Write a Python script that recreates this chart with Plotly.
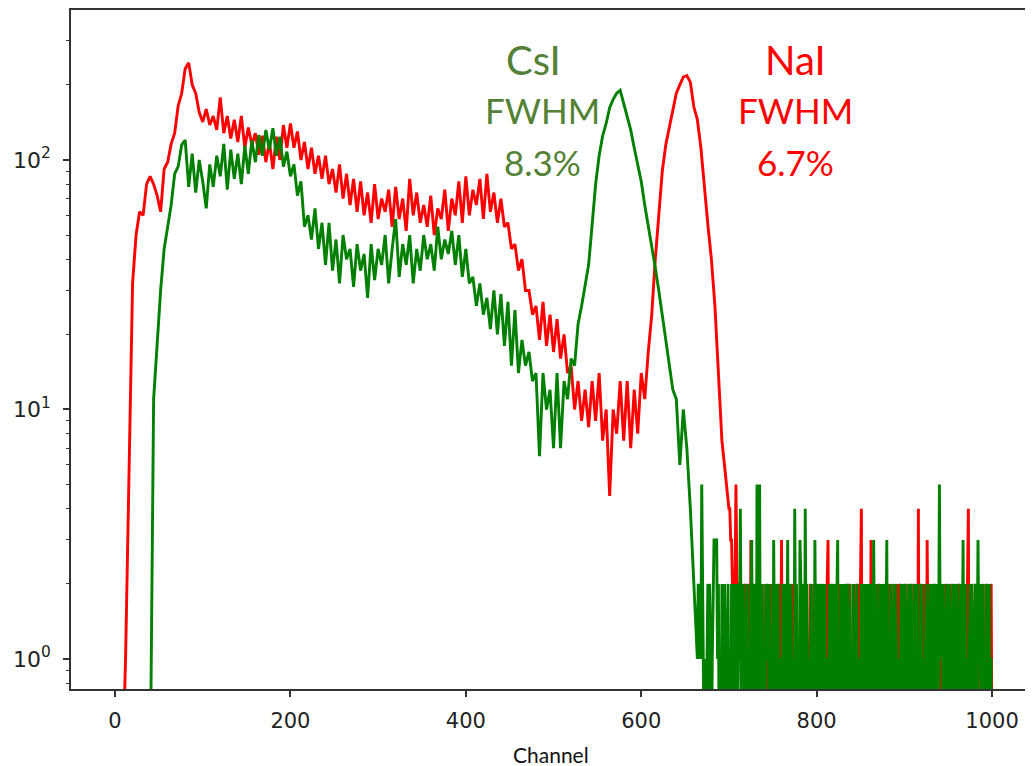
import numpy as np
import plotly.graph_objects as go

# ---------------- data (counts per channel) ----------------
STEP = 4  # main part sampled every 4 channels, starting at channel 0

# NaI spectrum, channels 0, 4, ..., 696
nai_main = [
    0, 0, 0, 1, 6, 32, 50, 62, 60, 80,
    86, 80, 72, 62, 92, 98, 116, 128, 165, 185,
    232, 245, 200, 185, 155, 142, 160, 138, 150, 132,
    178, 128, 150, 122, 145, 118, 150, 112, 135, 115,
    128, 105, 125, 98, 118, 92, 124, 100, 138, 112,
    140, 112, 130, 100, 118, 92, 112, 88, 104, 84,
    104, 80, 92, 74, 96, 70, 88, 66, 84, 62,
    82, 60, 74, 56, 80, 58, 70, 62, 76, 54,
    78, 58, 70, 52, 84, 60, 74, 56, 66, 54,
    72, 50, 64, 58, 76, 52, 70, 60, 82, 56,
    86, 60, 76, 66, 84, 58, 88, 62, 74, 56,
    70, 54, 56, 44, 46, 36, 40, 30, 30, 24,
    26, 19, 27, 18, 24, 17, 23, 16, 20, 14,
    15, 10, 13, 9, 12, 8.5, 13, 9, 14, 7.5,
    10, 4.5, 10, 8, 13, 7.5, 13, 7, 12, 8,
    14, 11, 17, 24, 40, 62, 90, 115, 135, 158,
    185, 200, 215, 218, 205, 163, 145, 112, 76, 55,
    40, 26, 14, 7.5, 5.5,
]
# NaI tail, one count per channel from channel 700 to 1000
nai_tail_start = 700
nai_tail = [int(c) for c in (
    "4433222252" "1221210212" "1012031201" "2101201020" "1020110201"
    "0120101201" "3010210120" "1021012010" "0120201021" "1012010201"
    "2010120102" "1023010201" "0120102010" "1021020120" "0102101201"
    "2401201020" "1030120102" "0120101201" "1020120102" "0102012010"
    "1201020120" "0120104020" "1020103120" "0102010201" "2010210120"
    "1020101201" "0120102010" "1024010201" "0120102101" "20102010120"
)]

# CsI spectrum, channels 0, 4, ..., 660
csi_main = [
    0, 0, 0, 0, 0, 0, 0, 0, 0, 0,
    0, 11, 19, 30, 44, 54, 66, 88, 94, 115,
    120, 78, 106, 74, 100, 82, 64, 96, 78, 104,
    86, 116, 76, 110, 84, 106, 80, 114, 88, 120,
    98, 126, 104, 132, 110, 134, 104, 124, 94, 108,
    86, 96, 72, 82, 54, 60, 48, 64, 44, 56,
    38, 56, 36, 48, 32, 50, 40, 44, 31, 46,
    36, 42, 28, 46, 33, 44, 38, 50, 32, 44,
    58, 34, 46, 38, 50, 32, 44, 36, 50, 40,
    46, 36, 54, 40, 48, 42, 52, 38, 50, 34,
    44, 32, 34, 26, 32, 24, 28, 21, 30, 20,
    29, 18, 27, 15, 25, 14, 19, 15, 17, 13,
    14, 6.5, 14, 10, 12, 7, 14, 7, 13, 11,
    16, 15, 22, 26, 31, 38, 55, 80, 104, 125,
    140, 162, 175, 185, 190, 168, 150, 132, 112, 96,
    82, 66, 55, 46, 37, 30, 24, 19, 15, 12,
    11, 6, 10, 7, 4, 2,
]
# CsI tail, one count per channel from channel 664 to 1000
csi_tail_start = 664
csi_tail = [int(c) for c in (
    "1212152101" "0120210123" "3331201021" "0210120102" "1020120214"
    "1021012010" "2130121052" "0501201021" "1201020312" "0120110201"
    "2013012101" "0412010320" "1204120101" "2010312012" "0121020110"
    "2012102012" "3010210201" "2101201021" "0120110202" "1021020121"
    "0310210120" "1202013010" "2101202101" "0120120210" "1202101201"
    "2010212010" "1210120201" "2102015121" "0210120210" "1201202101"
    "2013012010" "1202101202" "3120120102" "1202011"
)]

x_tick_vals = [0, 200, 400, 600, 800, 1000]
y_tick_vals = [1, 10, 100]
y_tick_text = ["10<sup>0</sup>", "10<sup>1</sup>", "10<sup>2</sup>"]
y_minor_vals = [0.8, 0.9, 2, 3, 4, 5, 6, 7, 8, 9,
                20, 30, 40, 50, 60, 70, 80, 90, 200, 300, 400]

# ---------------- build series ----------------
def series(main, tail_start, tail):
    x = np.concatenate([np.arange(len(main)) * STEP,
                        tail_start + np.arange(len(tail))])
    y = np.concatenate([np.array(main, float), np.array(tail, float)])
    # like matplotlib's log clipping: zero counts drop below the axis
    y = np.where(y > 0, y, 0.3)
    return x, y

nai_x, nai_y = series(nai_main, nai_tail_start, nai_tail)
csi_x, csi_y = series(csi_main, csi_tail_start, csi_tail)

fig = go.Figure()
fig.add_trace(go.Scatter(x=nai_x, y=nai_y, mode="lines", name="NaI",
                         line=dict(color="#ff0000", width=2.9)))
fig.add_trace(go.Scatter(x=csi_x, y=csi_y, mode="lines", name="CsI",
                         line=dict(color="#008000", width=2.9)))

axis_col = "#333333"
tick_font = dict(family="DejaVu Sans", size=21, color="#222222")

# the page body adds an 8 px offset, so margins are set 8 px smaller on the left/top
fig.update_layout(
    width=1033, height=766,
    margin=dict(l=63, r=8, t=2, b=85, autoexpand=False),
    plot_bgcolor="white", paper_bgcolor="white",
    showlegend=False,
)
fig.update_xaxes(
    range=[-50.2, 1046.7], automargin=False,
    showline=True, linecolor=axis_col, linewidth=1.8, mirror=True,
    ticks="outside", ticklen=6, tickwidth=1.5, tickcolor=axis_col,
    tickvals=x_tick_vals, tickfont=tick_font, ticklabelstandoff=6,
    showgrid=False, zeroline=False,
)
fig.update_yaxes(
    type="log", range=[-0.1202, 2.601], automargin=False,
    showline=True, linecolor=axis_col, linewidth=1.8,
    ticks="outside", ticklen=6, tickwidth=1.5, tickcolor=axis_col,
    tickvals=y_tick_vals, ticktext=y_tick_text,
    tickfont=dict(family="DejaVu Sans", size=22, color="#222222"),
    ticklabelstandoff=8,
    minor=dict(tickmode="array", tickvals=y_minor_vals, ticks="outside",
               ticklen=3.5, tickwidth=1.2, tickcolor=axis_col, showgrid=False),
    showgrid=False, zeroline=False,
)

# screen position (in the photographed page) -> paper coordinates
def px(x, y):
    return (x - 71) / 962.0, (689 - y) / 679.0

green_txt = "#538135"
labels = [
    ("CsI", 533, 60, 40, green_txt),
    ("FWHM", 542, 110, 35, green_txt),
    ("8.3%", 542, 162, 35, green_txt),
    ("NaI", 795, 60, 40, "#ff0000"),
    ("FWHM", 795, 110, 35, "#ff0000"),
    ("6.7%", 795, 162, 35, "#ff0000"),
]
for txt, x, y, s, c in labels:
    ax, ay = px(x, y)
    fig.add_annotation(text=txt, x=ax, y=ay, xref="paper", yref="paper",
                       xanchor="center", yanchor="middle", showarrow=False,
                       font=dict(family="Lato", size=s, color=c))

cx, cy = px(551, 754)
fig.add_annotation(text="Channel", x=cx, y=cy, xref="paper", yref="paper",
                   xanchor="center", yanchor="middle", showarrow=False,
                   font=dict(family="Lato", size=21, color="#111111"))

fig.write_html("out.html")
